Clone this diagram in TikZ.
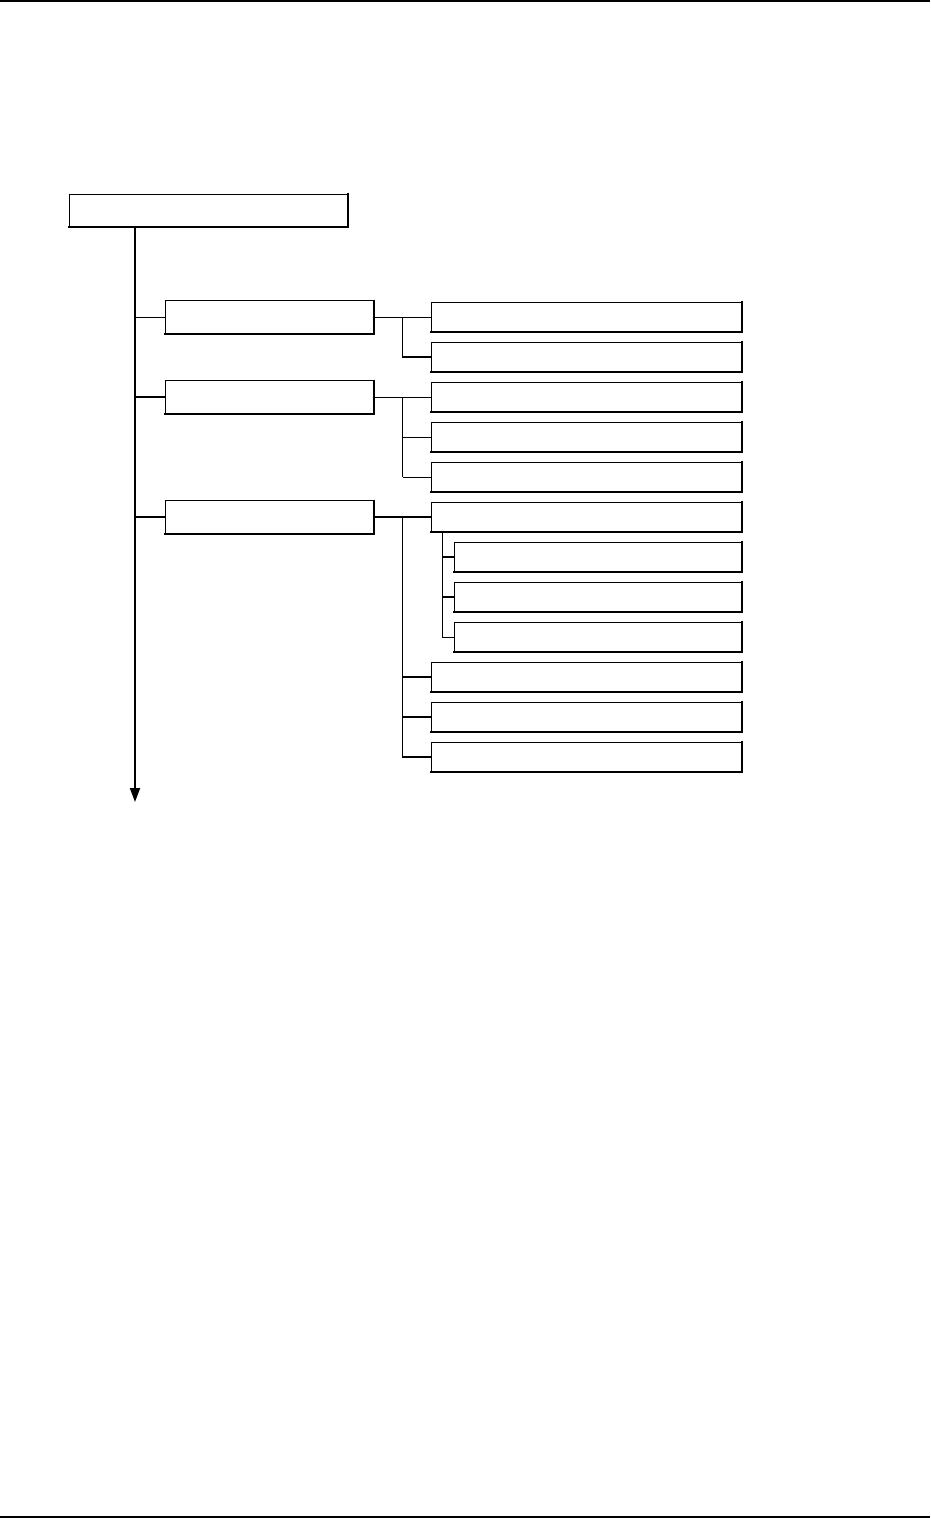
\documentclass[tikz,border=0pt]{standalone}
\usetikzlibrary{positioning, arrows.meta, calc}

\begin{document}
\begin{tikzpicture}[
    x=1pt, y=-1pt,
    node distance=10pt and 57pt,
    box/.style={rectangle, draw, line width=1pt, inner sep=0pt, outer sep=0pt, minimum height=30pt},
    rootbox/.style={box, minimum width=279pt, minimum height=33pt},
    groupbox/.style={box, minimum width=209pt, minimum height=33pt},
    itembox/.style={box, minimum width=311pt},
    subbox/.style={box, minimum width=288pt},
    edge/.style={line width=2pt, line cap=rect},
    link/.style={line width=0.8pt},
    heavylink/.style={line width=1.8pt},
    trunk/.style={line width=2pt, -{Triangle[width=10pt,length=14pt]}}
]

\useasboundingbox (0,0) rectangle (930,1518);

% Page rules
\draw[line width=2pt] (0,1) -- (930,1);
\draw[line width=2pt] (0,1517) -- (930,1517);

% Nodes
\node[rootbox, anchor=north west] (root) at (69,194) {};

\node[itembox, anchor=north west] (item_a1) at (431,302) {};
\node[itembox, below=of item_a1] (item_a2) {};
\node[itembox, below=of item_a2] (item_b1) {};
\node[itembox, below=of item_b1] (item_b2) {};
\node[itembox, below=of item_b2] (item_b3) {};
\node[itembox, below=of item_b3] (item_c1) {};
\node[subbox, below=of item_c1.south east, anchor=north east] (item_c1a) {};
\node[subbox, below=of item_c1a] (item_c1b) {};
\node[subbox, below=of item_c1b] (item_c1c) {};
\node[itembox, below=of item_c1c.south east, anchor=north east] (item_c2) {};
\node[itembox, below=of item_c2] (item_c3) {};
\node[itembox, below=of item_c3] (item_c4) {};

\node[groupbox, left=of item_a1] (grp_a) {};
\node[groupbox, left=of item_b1] (grp_b) {};
\node[groupbox, left=of item_c1] (grp_c) {};

\foreach \n in {root, grp_a, grp_b, grp_c, item_a1, item_a2, item_b1, item_b2, item_b3,
                item_c1, item_c1a, item_c1b, item_c1c, item_c2, item_c3, item_c4}
    \draw[edge] (\n.north east) -- (\n.south east) -- (\n.south west);

% Trunk
\coordinate (trunk_end) at (135,802);
\draw[trunk] (root.south -| trunk_end) -- (trunk_end);

\draw[link] (grp_a.west) -- (grp_a.west -| trunk_end);
\draw[heavylink] (grp_b.west) -- (grp_b.west -| trunk_end);
\draw[heavylink] (grp_c.west) -- (grp_c.west -| trunk_end);

% Forks
\coordinate (fork_a) at ($(grp_a.east)!0.5!(item_a1.west)$);
\draw[link] (grp_a.east) -- (item_a1.west);
\draw[heavylink] (fork_a) |- (item_a2.west);

\coordinate (fork_b) at ($(grp_b.east)!0.5!(item_b1.west)$);
\draw[link] (grp_b.east) -- (item_b1.west);
\draw[heavylink] (fork_b) -- (fork_b |- item_b3.west);
\draw[link] (fork_b |- item_b2.west) -- (item_b2.west);
\draw[link] (fork_b |- item_b3.west) -- (item_b3.west);

\coordinate (fork_c) at ($(grp_c.east)!0.5!(item_c1.west)$);
\draw[heavylink] (grp_c.east) -- (item_c1.west);
\draw[heavylink] (fork_c) |- (item_c4.west);
\draw[heavylink] (fork_c |- item_c2.west) -- (item_c2.west);
\draw[heavylink] (fork_c |- item_c3.west) -- (item_c3.west);

\coordinate (fork_c1) at ([xshift=11pt]item_c1.south west);
\draw[link] (fork_c1) |- (item_c1c.west);
\draw[heavylink] (fork_c1 |- item_c1a.west) -- (item_c1a.west);
\draw[heavylink] (fork_c1 |- item_c1b.west) -- (item_c1b.west);

\end{tikzpicture}
\end{document}
